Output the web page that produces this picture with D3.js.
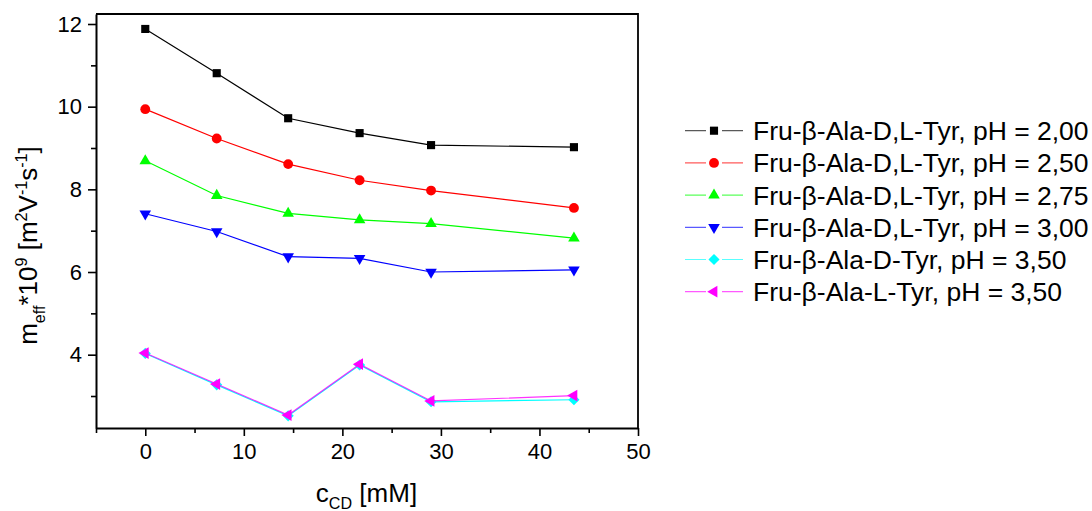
<!DOCTYPE html>
<html>
<head>
<meta charset="utf-8">
<script src="https://cdn.jsdelivr.net/npm/d3@7"></script>
<style>
  html, body { margin: 0; padding: 0; background: #fff; }
  svg { display: block; font-family: "Liberation Sans", Arial, sans-serif; }
</style>
</head>
<body>
<svg id="chart" width="1092" height="511"></svg>
<script>
// Cyclodextrin concentration (mM)
const cCD = [0, 7.25, 14.5, 21.75, 29, 43.5];

// Effective mobility m_eff * 10^9 for each sample
const pH200 = [11.88, 10.81, 9.72, 9.36, 9.07, 9.02];
const pH250 = [9.94, 9.23, 8.61, 8.22, 7.97, 7.55];
const pH275 = [8.69, 7.85, 7.42, 7.26, 7.17, 6.82];
const pH300 = [7.41, 6.98, 6.37, 6.33, 6.00, 6.05];
const dTyr350 = [4.03, 3.27, 2.52, 3.75, 2.86, 2.91];
const lTyr350 = [4.04, 3.29, 2.54, 3.77, 2.88, 3.01];

const seriesNames = [
  "Fru-\u03B2-Ala-D,L-Tyr, pH = 2,00",
  "Fru-\u03B2-Ala-D,L-Tyr, pH = 2,50",
  "Fru-\u03B2-Ala-D,L-Tyr, pH = 2,75",
  "Fru-\u03B2-Ala-D,L-Tyr, pH = 3,00",
  "Fru-\u03B2-Ala-D-Tyr, pH = 3,50",
  "Fru-\u03B2-Ala-L-Tyr, pH = 3,50"
];

const xMajorTicks = [0, 10, 20, 30, 40, 50];
const xMinorTicks = [-5, 5, 15, 25, 35, 45];
const yMajorTicks = [4, 6, 8, 10, 12];
const yMinorTicks = [3, 5, 7, 9, 11];

const seriesStyle = [
  { color: "#000000", shape: "square" },
  { color: "#ff0000", shape: "circle" },
  { color: "#00ff00", shape: "up" },
  { color: "#0000ff", shape: "down" },
  { color: "#00ffff", shape: "diamond" },
  { color: "#ff00ff", shape: "left" }
];
const seriesValues = [pH200, pH250, pH275, pH300, dTyr350, lTyr350];

const svg = d3.select("#chart");
const plotL = 96, plotR = 638, plotT = 14, plotB = 428;

const x = d3.scaleLinear().domain([-5, 50]).range([plotL, plotR]);
const y = d3.scaleLinear().domain([2.226, 12.242]).range([plotB, plotT]);

// symbol generator per shape
function symbolPath(shape) {
  switch (shape) {
    case "square": return { d: d3.symbol(d3.symbolSquare, 66)(), rot: 0 };
    case "circle": return { d: d3.symbol(d3.symbolCircle, 76)(), rot: 0 };
    case "up": return { d: d3.symbol(d3.symbolTriangle, 58)(), rot: 0 };
    case "down": return { d: d3.symbol(d3.symbolTriangle, 58)(), rot: 180 };
    case "diamond": return { d: d3.symbol(d3.symbolSquare, 62)(), rot: 45 };
    case "left": return { d: d3.symbol(d3.symbolTriangle, 60)(), rot: -90 };
  }
}

const tickFont = 22;

// bottom axis
const xAxis = d3.axisBottom(x).tickValues(xMajorTicks).tickSize(8).tickSizeOuter(0)
  .tickFormat(d3.format("d")).tickPadding(7);
const gx = svg.append("g").attr("transform", `translate(0,${plotB})`).call(xAxis);
gx.select(".domain").attr("stroke-width", 2);
gx.selectAll(".tick line").attr("stroke-width", 1.6);
gx.selectAll(".tick text").attr("font-size", tickFont).attr("fill", "#000")
  .attr("font-family", "Liberation Sans, Arial, sans-serif");
const xMinor = d3.axisBottom(x).tickValues(xMinorTicks).tickSize(5).tickSizeOuter(0).tickFormat("");
const gxm = svg.append("g").attr("transform", `translate(0,${plotB})`).call(xMinor);
gxm.select(".domain").remove();
gxm.selectAll(".tick line").attr("stroke-width", 1.6);

// left axis
const yAxis = d3.axisLeft(y).tickValues(yMajorTicks).tickSize(8).tickSizeOuter(0)
  .tickFormat(d3.format("d")).tickPadding(6);
const gy = svg.append("g").attr("transform", `translate(${plotL},0)`).call(yAxis);
gy.select(".domain").attr("stroke-width", 2);
gy.selectAll(".tick line").attr("stroke-width", 1.6);
gy.selectAll(".tick text").attr("font-size", tickFont).attr("fill", "#000")
  .attr("font-family", "Liberation Sans, Arial, sans-serif");
const yMinor = d3.axisLeft(y).tickValues(yMinorTicks).tickSize(5).tickSizeOuter(0).tickFormat("");
const gym = svg.append("g").attr("transform", `translate(${plotL},0)`).call(yMinor);
gym.select(".domain").remove();
gym.selectAll(".tick line").attr("stroke-width", 1.6);

// top and right frame
svg.append("path")
  .attr("d", `M${plotL},${plotT}H${plotR}V${plotB}`)
  .attr("fill", "none").attr("stroke", "#000").attr("stroke-width", 1.8);

// series lines and markers
const line = d3.line().x((d, i) => x(cCD[i])).y(d => y(d));
seriesValues.forEach((vals, si) => {
  const st = seriesStyle[si];
  const g = svg.append("g");
  g.append("path").attr("d", line(vals)).attr("fill", "none")
    .attr("stroke", st.color).attr("stroke-width", 1.2)
    .attr("stroke-opacity", si === 5 ? 0.8 : 1);
  const sym = symbolPath(st.shape);
  g.selectAll("path.pt").data(vals).join("path").attr("class", "pt")
    .attr("d", sym.d)
    .attr("transform", (d, i) => `translate(${x(cCD[i])},${y(d)}) rotate(${sym.rot})`)
    .attr("fill", st.color);
});

// legend
const legX0 = 685, legX1 = 743, legXm = 714, legTextX = 753;
const legY0 = 130.7, legDy = 32.2;
seriesNames.forEach((name, si) => {
  const st = seriesStyle[si];
  const cy = legY0 + si * legDy;
  const g = svg.append("g");
  g.append("line").attr("x1", legX0).attr("x2", legX1).attr("y1", cy).attr("y2", cy)
    .attr("stroke", st.color).attr("stroke-width", 1.2).attr("stroke-opacity", 0.65);
  const sym = symbolPath(st.shape);
  g.append("rect").attr("x", legXm - 8).attr("y", cy - 8).attr("width", 16).attr("height", 16).attr("fill", "#fff");
  g.append("path").attr("d", sym.d)
    .attr("transform", `translate(${legXm},${cy}) rotate(${sym.rot})`)
    .attr("fill", st.color);
  g.append("text").attr("x", legTextX).attr("y", cy + 9.5)
    .attr("font-size", 26.5).attr("fill", "#000").text(name);
});

// axis titles with sub/superscripts
function richText(parent, parts, size) {
  const t = parent.append("text").attr("font-size", size).attr("fill", "#000");
  let shift = 0;
  parts.forEach(p => {
    const [str, kind] = p;
    let target = 0, fs = size;
    if (kind === "sub") { target = size * 0.3; fs = size * 0.62; }
    if (kind === "sup") { target = -size * 0.4; fs = size * 0.62; }
    t.append("tspan").attr("dy", target - shift).attr("font-size", fs).text(str);
    shift = target;
  });
  return t;
}

const xt = richText(svg.append("g").attr("transform", "translate(366.5,501.5)"),
  [["c"], ["CD", "sub"], [" [mM]"]], 26);
xt.attr("text-anchor", "middle");

const yt = richText(svg.append("g").attr("transform", "translate(37,245.5) rotate(-90)"),
  [["m"], ["eff", "sub"], ["*10"], ["9", "sup"], [" [m"], ["2", "sup"], ["V"], ["-1", "sup"], ["s"], ["-1", "sup"], ["]"]], 26);
yt.attr("text-anchor", "middle");
</script>
</body>
</html>
